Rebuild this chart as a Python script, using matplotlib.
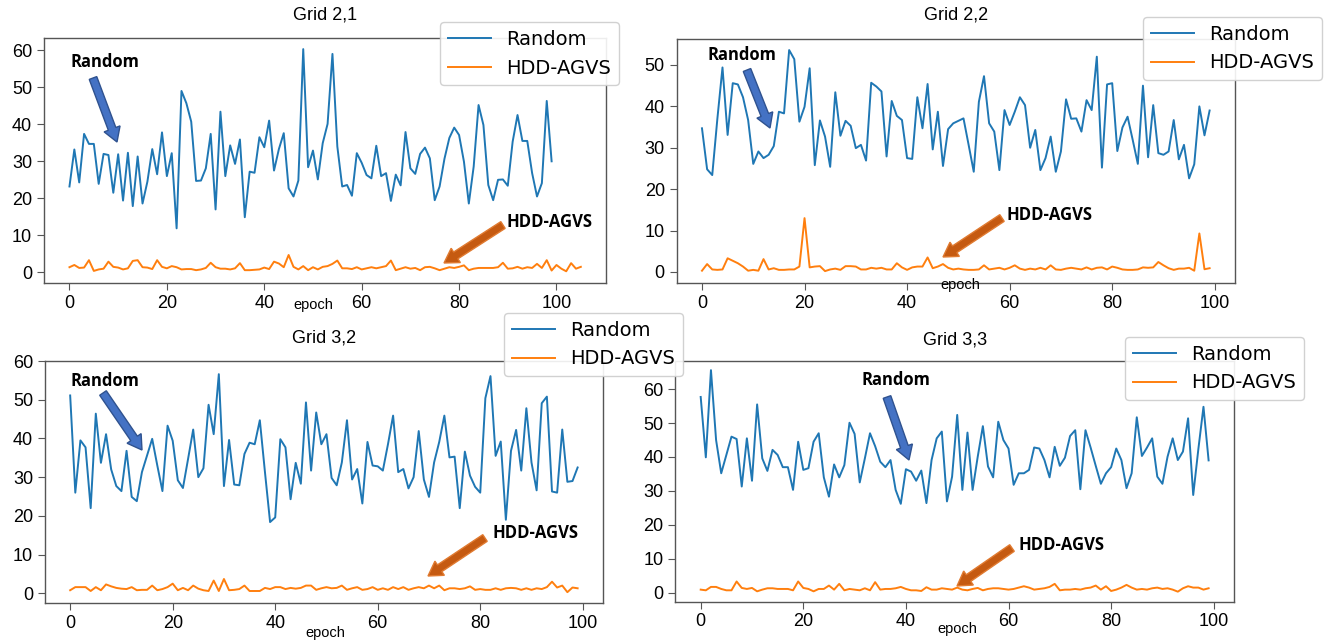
import numpy as np
import matplotlib
matplotlib.use("Agg")
import matplotlib.pyplot as plt
from matplotlib.transforms import Affine2D
from matplotlib.patches import FancyArrow

# ---------------- data ----------------
g21_random = [23.2, 33.2, 24.3, 37.4, 34.7, 34.7, 23.9, 32.0, 31.7, 21.5,
              31.9, 19.4, 32.3, 17.9, 31.3, 18.6, 24.5, 33.3, 26.5, 37.8,
              26.0, 32.2, 11.9, 49.0, 45.7, 40.7, 24.7, 24.8, 28.1, 37.4,
              17.0, 43.4, 26.0, 34.3, 29.3, 35.9, 14.9, 27.2, 26.9, 36.5,
              33.8, 41.0, 27.5, 33.3, 37.6, 22.7, 20.5, 24.8, 60.3, 28.4,
              32.9, 25.1, 34.9, 40.1, 59.0, 34.0, 23.2, 23.6, 20.7, 32.2,
              29.6, 26.3, 25.4, 34.2, 26.0, 26.8, 19.3, 26.4, 23.5, 37.9,
              28.1, 26.6, 32.0, 33.7, 30.8, 19.5, 23.2, 30.7, 36.3, 39.1,
              37.1, 29.9, 18.6, 28.6, 45.2, 39.8, 23.6, 19.5, 25.0, 25.1,
              23.4, 35.3, 42.5, 35.5, 35.5, 26.8, 20.5, 24.1, 46.3, 30.0]
g21_hdd = [1.4, 2.0, 1.2, 1.3, 3.3, 0.4, 0.8, 1.0, 2.9, 1.5,
           1.3, 0.8, 1.1, 3.1, 3.3, 1.4, 1.3, 0.9, 3.3, 1.5,
           1.1, 1.7, 1.4, 0.8, 0.9, 0.9, 0.6, 0.8, 1.2, 2.6,
           1.4, 1.0, 1.0, 0.8, 1.1, 2.5, 0.6, 0.6, 0.7, 0.8,
           1.3, 0.9, 2.9, 2.4, 1.4, 4.7,
           1.5, 0.8, 1.7, 0.6, 1.4, 0.8, 1.5, 1.7, 2.3, 3.2,
           1.1, 1.1, 0.9, 1.4, 0.8, 1.1, 1.4, 1.1, 1.4, 1.7,
           3.2, 0.6, 1.0, 1.4, 1.0, 1.2, 0.6, 1.4, 1.5, 1.1,
           0.6, 1.0, 1.4, 1.2, 1.5, 1.9, 0.6, 1.0, 1.2, 1.2,
           1.2, 1.2, 1.4, 2.6, 1.0, 1.1, 1.5, 1.0, 1.4, 1.2,
           2.3, 1.2, 3.3,
           0.5, 2.0, 1.0, 0.3, 2.5, 1.0, 1.5]

g22_random = [34.7, 24.8, 23.4, 37.0, 49.4, 33.1, 45.6, 45.3, 42.2, 36.7,
              26.1, 29.1, 27.5, 28.3, 30.4, 38.7, 38.3, 53.6, 51.4, 36.3,
              39.9, 49.2, 25.8, 36.6, 32.7, 25.4, 43.4, 32.9, 36.5, 35.3,
              29.9, 30.7, 26.9, 45.7, 44.8, 43.6, 27.9, 41.3, 37.7, 36.7,
              27.5, 27.3, 42.2, 34.7, 45.4, 29.6, 38.7,
              25.6, 34.5, 35.9, 36.5, 37.1, 30.7, 24.2, 41.1, 47.3, 35.9,
              33.9, 24.6, 39.1, 35.5, 38.7, 42.2, 40.3, 30.0, 34.3, 24.6,
              27.5, 32.7, 24.2, 29.1, 41.7, 37.0, 37.1, 33.9, 41.5, 39.1,
              52.0, 25.2, 45.3, 45.6, 29.2, 34.9, 37.5, 31.9, 26.1, 45.0,
              27.7, 40.3, 28.7, 28.3, 29.1, 36.7, 27.2, 30.7, 22.6,
              26.0, 40.0, 33.0, 39.0]
g22_hdd = [0.3, 1.9, 0.6, 0.5, 0.6, 3.3, 2.7, 2.1, 1.3, 0.3,
           0.5, 0.3, 3.1, 0.6, 0.9, 0.5, 0.5, 0.6, 0.6, 1.3,
           13.0, 1.1, 1.3, 1.4, 0.2, 0.6, 0.8, 0.5, 1.4, 1.4,
           1.3, 0.6, 0.6, 1.0, 0.8, 1.0, 0.6, 0.6, 2.1, 1.1,
           0.5, 1.1, 1.3, 1.3, 3.5, 0.9, 1.3,
           1.9, 1.0, 0.6, 0.8, 0.6, 0.5, 0.5, 0.6, 1.6, 0.6,
           0.8, 1.0, 0.6, 1.0, 1.6, 0.8, 0.5, 0.8, 0.6, 1.0,
           0.6, 1.6, 0.6, 0.5, 0.8, 1.0, 0.8, 0.6, 1.1, 0.6,
           1.0, 1.1, 0.6, 1.3, 1.0, 0.6, 0.5, 0.5, 0.6, 1.1,
           1.0, 1.1, 2.4,
           1.6, 0.9, 0.5, 0.8, 0.8, 1.0, 0.3, 9.3, 0.65, 0.9]

g32_random = [51.1, 26.0, 39.5, 37.7, 22.0, 46.4, 33.7, 41.1, 32.0, 27.7,
              26.4, 36.8, 24.9, 23.8, 31.3, 35.6, 39.9, 33.0, 26.4, 43.3,
              39.4, 29.2, 27.2, 34.7, 42.3, 30.0, 32.3, 48.7, 41.1, 56.6,
              27.7, 39.6, 28.1, 27.9, 36.0, 38.9, 38.5, 44.7, 31.3, 18.4,
              19.6, 39.8, 37.7, 24.3, 33.7, 28.3, 49.3,
              31.7, 46.7, 38.5, 41.1, 29.8, 27.9, 33.8, 44.7, 29.4, 32.1,
              23.2, 39.1, 33.0, 32.8, 31.7, 38.5, 45.9, 31.3, 32.1, 27.1,
              30.0, 41.9, 29.4, 24.9, 33.8, 39.1, 45.9, 35.1, 35.3, 22.0,
              36.6, 30.4, 27.5, 26.0, 50.4, 56.1, 35.5, 39.2, 19.0, 36.8,
              42.2, 31.7, 47.8, 33.8, 26.6, 49.1, 50.8,
              26.3, 26.0, 42.3, 28.8, 29.0, 32.5]
g32_hdd = [0.8, 1.6, 1.6, 1.6, 0.6, 1.6, 0.8, 2.3, 1.8, 1.4,
           1.2, 1.1, 1.6, 0.8, 0.9, 0.9, 2.0, 0.8, 1.1, 1.6,
           2.5, 0.8, 1.4, 0.8, 2.0, 1.2, 0.8, 0.6, 3.3, 0.6,
           3.7, 0.8, 0.9, 1.1, 2.0, 0.6, 0.6, 0.6, 1.4, 1.1,
           1.6, 1.6, 1.1, 1.4, 1.2, 1.4, 2.0,
           2.0, 0.9, 1.3, 1.6, 1.3, 1.4, 2.0, 0.9, 1.3, 1.6,
           0.9, 1.1, 1.6, 0.9, 1.3, 0.9, 1.6, 1.1, 1.6, 0.9,
           1.3, 1.6, 1.3, 2.0, 1.3, 2.0, 0.8, 1.3, 1.3, 1.1,
           1.3, 1.8, 0.9, 1.1, 0.9, 0.9, 1.3, 0.9, 1.3, 1.4,
           1.3, 0.9, 1.3, 0.9, 1.3, 1.1, 1.6,
           3.0, 1.5, 2.0, 0.3, 1.5, 1.3]

g33_random = [57.7, 39.9, 65.6, 45.0, 35.2, 40.6, 46.0, 45.3, 31.3, 45.5,
              33.0, 55.5, 39.6, 35.9, 42.1, 40.6, 37.0, 37.0, 30.3, 44.5,
              36.2, 36.7, 44.5, 47.0, 34.0, 28.3, 37.8, 34.0, 37.6, 50.1,
              46.8, 32.5, 39.6, 47.0, 43.2, 38.6, 37.0, 39.1, 30.3, 26.2,
              36.4, 35.7, 33.0, 36.0, 26.4, 39.1, 45.5, 47.5, 26.9,
              34.2, 52.4, 30.3, 47.2, 30.3, 40.1, 49.1, 37.2, 34.0, 50.4,
              45.0, 42.5, 31.8, 35.2, 35.2, 36.2, 42.8, 42.5, 39.1, 34.0,
              43.0, 37.4, 39.8, 46.2, 47.9, 30.5, 47.9, 42.8, 37.4, 32.1,
              35.2, 37.0, 42.5, 39.1, 30.8, 35.2, 51.7, 40.3, 42.8, 45.5,
              34.2, 32.1, 40.1, 45.5, 39.1, 41.6, 51.4, 28.8, 42.3, 54.8,
              39.0]
g33_hdd = [0.9, 0.7, 1.7, 1.7, 1.1, 0.7, 0.7, 3.3, 1.4, 1.1,
           1.4, 0.4, 0.9, 1.3, 1.3, 1.1, 1.1, 1.1, 0.7, 3.3,
           1.4, 1.1, 0.4, 1.1, 1.1, 2.1, 0.9, 2.6, 0.7, 1.1,
           0.9, 0.7, 1.3, 0.7, 3.1, 0.9, 1.1, 1.1, 1.3, 1.7,
           1.1, 0.7, 0.7, 0.5, 1.6, 0.9, 0.9, 1.3, 1.1,
           0.9, 1.5, 0.9, 0.7, 1.1, 1.4, 0.7, 1.1, 1.3, 1.3,
           1.1, 0.9, 1.1, 1.5, 1.9, 1.5, 0.9, 1.1, 1.3, 1.7,
           2.6, 0.7, 0.9, 0.9, 1.1, 0.9, 1.3, 1.5, 2.1, 0.9,
           1.9, 0.5, 0.9, 1.5, 2.3, 1.5, 0.9, 1.1, 0.9, 1.3,
           1.5, 1.1, 1.3, 0.9, 0.3, 1.3, 1.9, 1.5, 1.5, 0.9,
           1.3]

titles = ["Grid 2,1", "Grid 2,2", "Grid 3,2", "Grid 3,3"]
series_names = ["Random", "HDD-AGVS"]
x_ticks = [0, 20, 40, 60, 80, 100]
y_ticks = [[0, 10, 20, 30, 40, 50, 60], [0, 10, 20, 30, 40, 50],
           [0, 10, 20, 30, 40, 50, 60], [0, 10, 20, 30, 40, 50, 60]]

# ---------------- layout (pixel geometry) ----------------
W, H, DPI = 1327, 641, 100
plt.rcParams['font.family'] = ['Liberation Sans', 'DejaVu Sans']
fig = plt.figure(figsize=(W / DPI, H / DPI), dpi=DPI)
pix = Affine2D().scale(1 / DPI, -1 / DPI).translate(0, H / DPI) + fig.dpi_scale_trans

BLUE, ORANGE = '#1f77b4', '#ff7f0e'

panels = [
    dict(box=(43.9, 38, 606.4, 283.5), xlim=(-5.25, 110.25), ylim=(-3.0, 63.3),
         data=(g21_random, g21_hdd), title_y=15, epoch=(313, 305),
         leg=(440, 22)),
    dict(box=(676.6, 39.3, 1235, 282.7), xlim=(-4.95, 103.95), ylim=(-2.6, 56.2),
         data=(g22_random, g22_hdd), title_y=15, epoch=(960, 285),
         leg=(1143, 17)),
    dict(box=(44.8, 361, 603, 603), xlim=(-4.95, 103.95), ylim=(-2.5, 59.2),
         data=(g32_random, g32_hdd), title_y=338, epoch=(325, 633),
         leg=(504, 313)),
    dict(box=(675.3, 361, 1234, 601.5), xlim=(-4.95, 103.95), ylim=(-2.6, 68.3),
         data=(g33_random, g33_hdd), title_y=340, epoch=(957, 629),
         leg=(1125, 337)),
]

for k, p in enumerate(panels):
    x0, y0, x1, y1 = p['box']
    ax = fig.add_axes([x0 / W, 1 - y1 / H, (x1 - x0) / W, (y1 - y0) / H])
    rnd, hdd = p['data']
    l1, = ax.plot(np.arange(len(rnd)), rnd, color=BLUE, lw=1.4)
    l2, = ax.plot(np.arange(len(hdd)), hdd, color=ORANGE, lw=1.4)
    ax.set_xlim(*p['xlim'])
    ax.set_ylim(*p['ylim'])
    ax.set_xticks(x_ticks)
    ax.set_yticks(y_ticks[k])
    ax.tick_params(labelsize=13, color='#555555', length=5)
    for s in ax.spines.values():
        s.set_color('#555555')
        s.set_linewidth(1.0)
    fig.text((x0 + x1) / 2, p['title_y'], titles[k], transform=pix,
             ha='center', va='center', fontsize=13)
    fig.text(p['epoch'][0], p['epoch'][1], 'epoch', transform=pix,
             ha='center', va='center', fontsize=10.5)
    lx, ly = p['leg']
    fig.legend([l1, l2], series_names, loc='upper left',
               bbox_to_anchor=(lx / W, 1 - ly / H), bbox_transform=fig.transFigure,
               prop=dict(family='DejaVu Sans', size=14), borderaxespad=0,
               handlelength=2.2, framealpha=0.9)

# ---------------- annotations (text + block arrows) ----------------
ann_font = dict(family=['Open Sans', 'DejaVu Sans'], weight='bold', fontsize=12)
labels = [
    ('Random', 105, 62, (93, 78, 117, 142), '#4472c4', '#2f528f'),
    ('HDD-AGVS', 550, 222, (503, 225, 444, 263), '#c55a11', '#e07a30'),
    ('Random', 742, 55, (747, 70, 770, 128), '#4472c4', '#2f528f'),
    ('HDD-AGVS', 1049, 215, (1002, 218, 943, 257), '#c55a11', '#e07a30'),
    ('Random', 105, 381, (103, 393, 142, 450), '#4472c4', '#2f528f'),
    ('HDD-AGVS', 535, 533, (485, 538, 428, 576), '#c55a11', '#e07a30'),
    ('Random', 896, 380, (887, 397, 909, 460), '#4472c4', '#2f528f'),
    ('HDD-AGVS', 1062, 545, (1012, 548, 957, 586), '#c55a11', '#e07a30'),
]
for txt, tx, ty, (ax0, ay0, ax1, ay1), fc, ec in labels:
    fig.text(tx, ty, txt, transform=pix, ha='center', va='center', **ann_font)
    arr = FancyArrow(ax0, ay0, ax1 - ax0, ay1 - ay0, width=8, head_width=17,
                     head_length=14, length_includes_head=True,
                     transform=pix, fc=fc, ec=ec, lw=1)
    fig.add_artist(arr)

fig.savefig('out.png', dpi=DPI)
